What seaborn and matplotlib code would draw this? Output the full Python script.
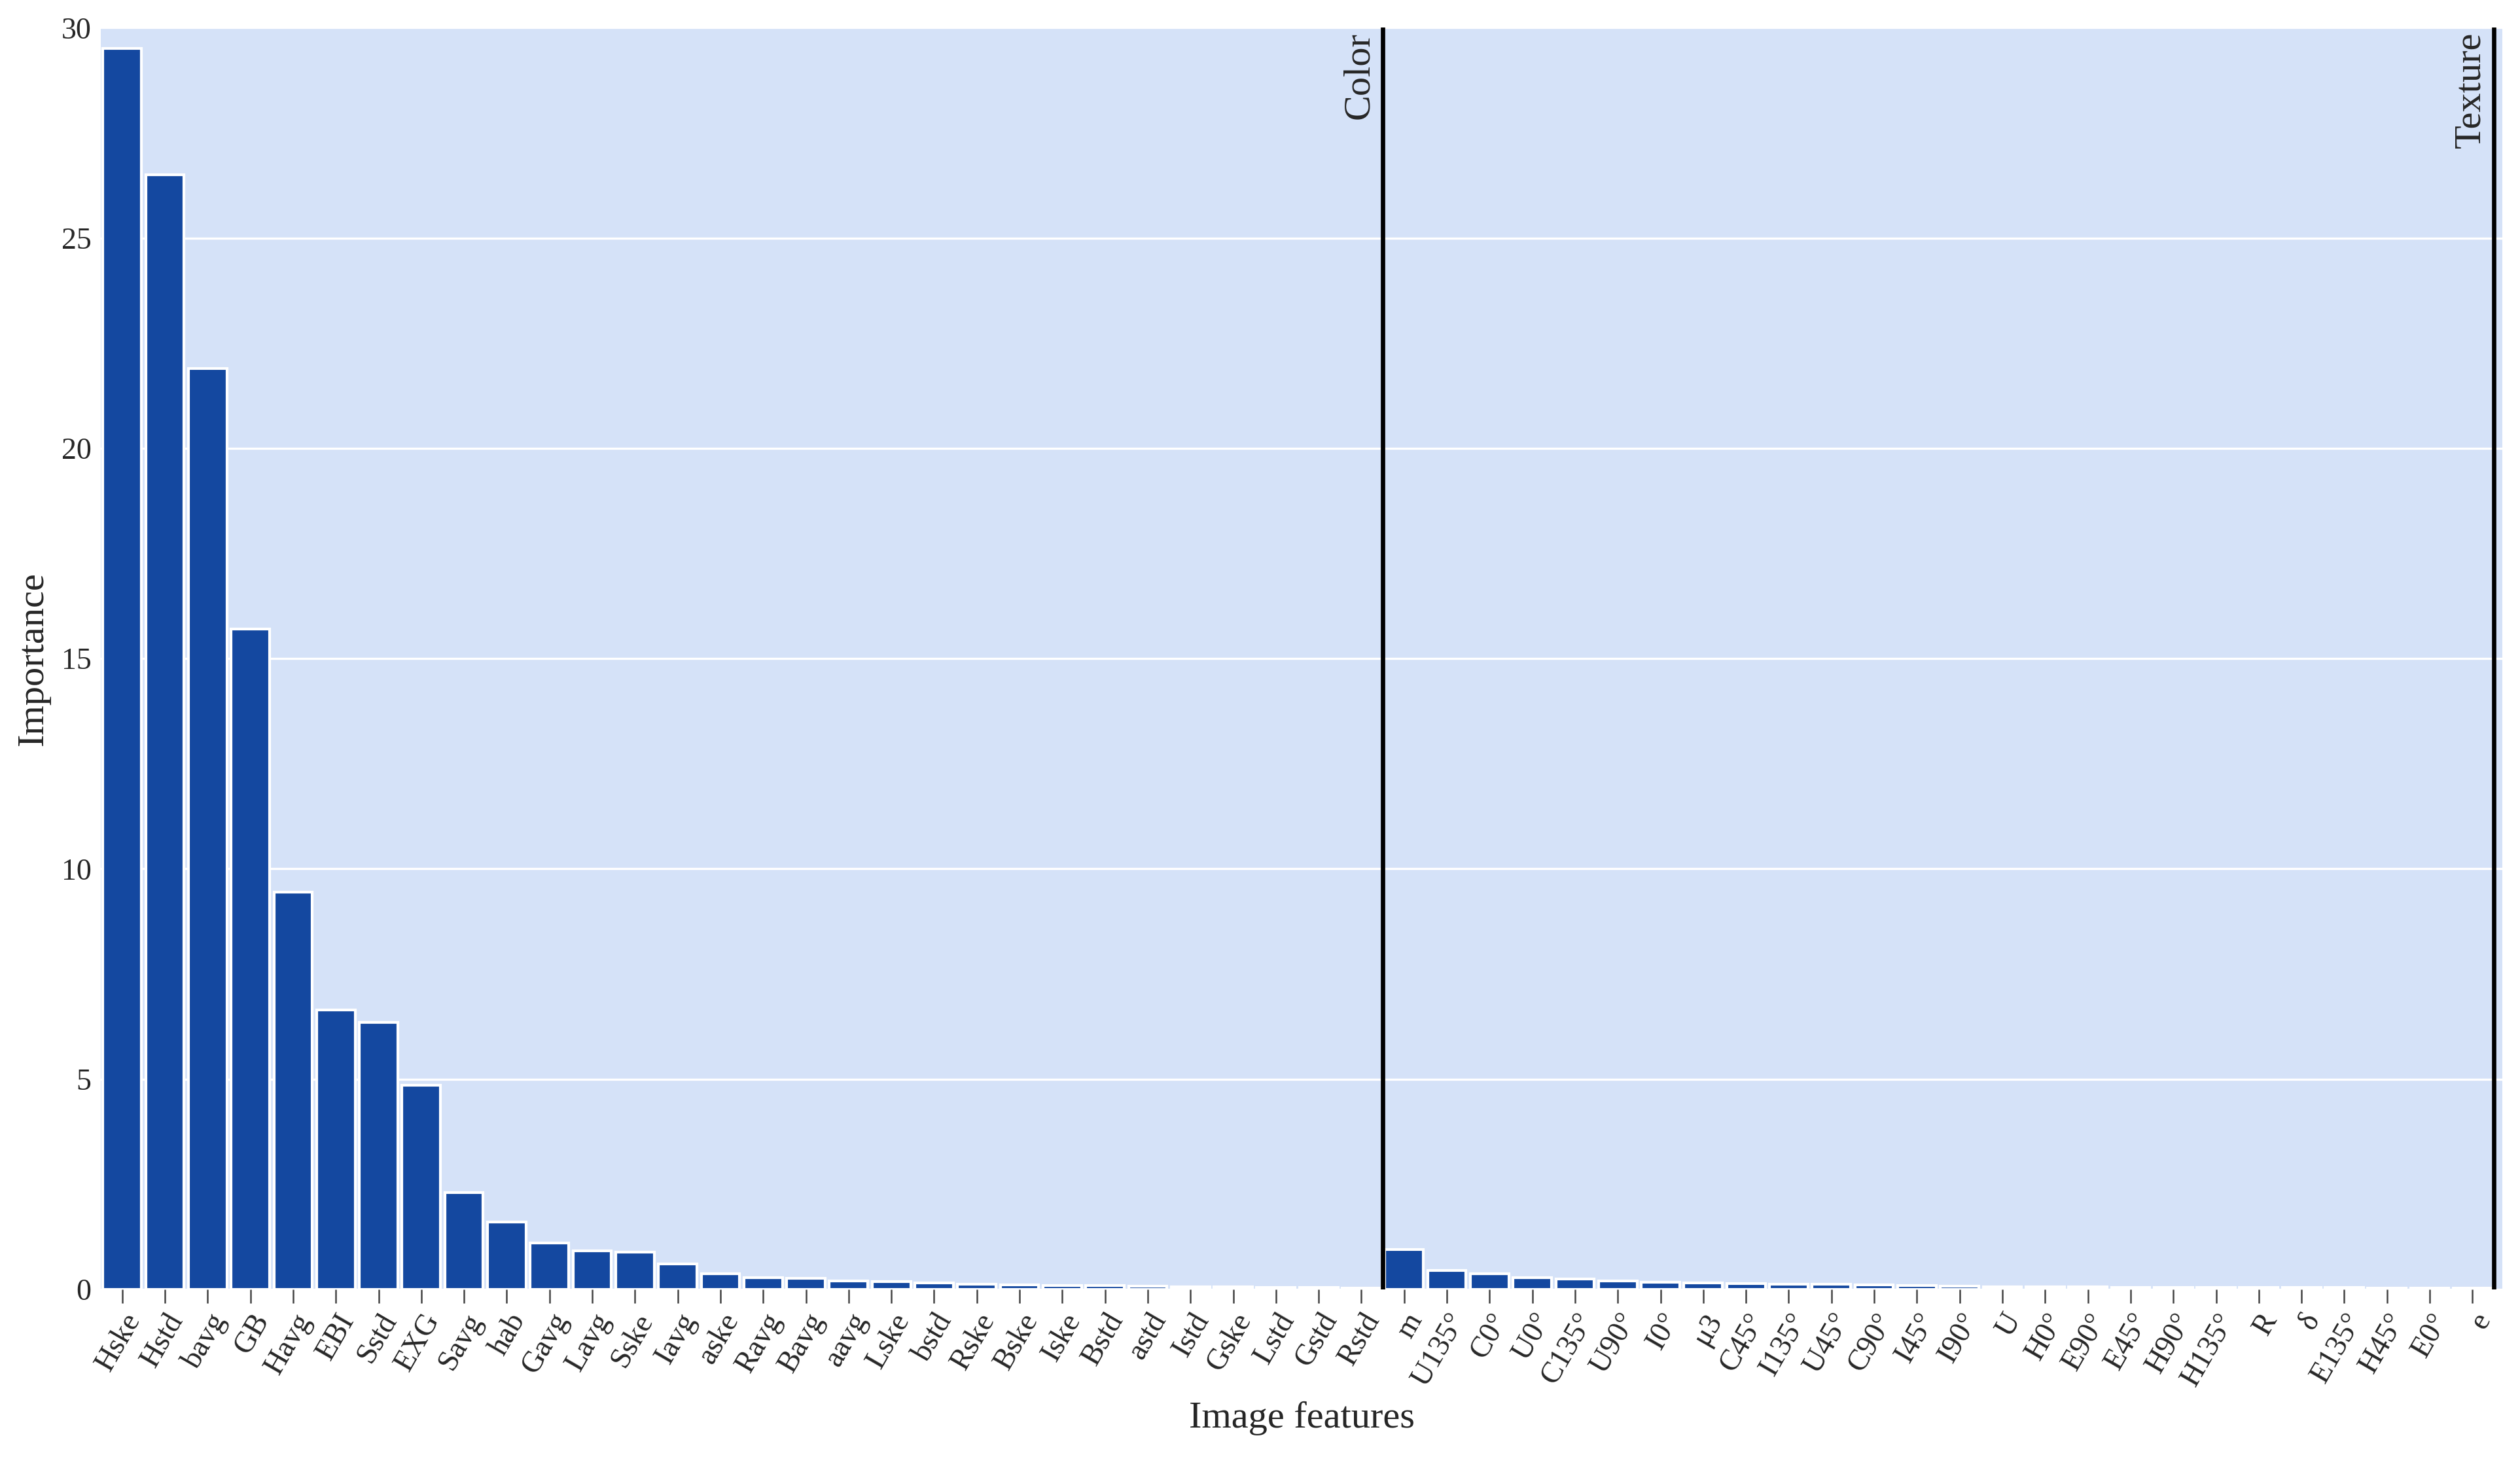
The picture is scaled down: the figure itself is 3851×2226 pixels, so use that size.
import matplotlib
matplotlib.use("Agg")
import matplotlib.pyplot as plt
import seaborn as sns
import pandas as pd

color_feats = ["Hske","Hstd","bavg","GB","Havg","EBI","Sstd","EXG","Savg","hab","Gavg","Lavg","Sske","Iavg","aske","Ravg","Bavg","aavg","Lske","bstd","Rske","Bske","Iske","Bstd","astd","Istd","Gske","Lstd","Gstd","Rstd"]
color_vals = [29.5,26.5,21.9,15.7,9.45,6.65,6.35,4.85,2.3,1.6,1.1,0.92,0.88,0.6,0.38,0.28,0.26,0.2,0.18,0.15,0.13,0.11,0.1,0.09,0.08,0.07,0.06,0.05,0.04,0.03]
tex_feats = ["m","U135°","C0°","U0°","C135°","U90°","I0°","μ3","C45°","I135°","U45°","C90°","I45°","I90°","U","H0°","E90°","E45°","H90°","H135°","R","δ","E135°","H45°","E0°","e"]
tex_vals = [0.95,0.45,0.37,0.28,0.25,0.2,0.17,0.15,0.14,0.13,0.12,0.11,0.1,0.08,0.07,0.06,0.06,0.05,0.05,0.05,0.04,0.04,0.04,0.03,0.03,0.03]

df = pd.DataFrame({"feature": color_feats + tex_feats, "imp": color_vals + tex_vals})

sns.set_theme(style="darkgrid", rc={"axes.facecolor": "#d5e2f8", "grid.color": "white", "grid.linewidth": 0.8})
plt.rcParams["font.family"] = ["Liberation Serif", "DejaVu Serif"]

fig = plt.figure(figsize=(3851/300, 2226/300), dpi=300)
ax = fig.add_axes([0.04, 0.115, 0.953, 0.866])
sns.barplot(data=df, x="feature", y="imp", color="#1448a0", saturation=1, width=0.9, ax=ax)
n = len(df)
ax.set_xlim(-0.5, n - 0.3)
ax.set_ylim(0, 30)
ax.set_yticks([0, 5, 10, 15, 20, 25, 30])
ax.tick_params(axis="y", labelsize=11, length=0)
ax.tick_params(axis="x", labelsize=11, length=5, width=0.6, color="#444444", bottom=True, pad=2)
plt.setp(ax.get_xticklabels(), rotation=60, ha="right", rotation_mode="anchor")
ax.set_xlabel("Image features", fontsize=14)
ax.set_ylabel("Importance", fontsize=14)
for s in ax.spines.values():
    s.set_visible(False)

xc = len(color_feats) - 0.5
xt = n - 0.5
ax.axvline(xc, color="black", lw=1.6)
ax.axvline(xt, color="black", lw=1.6)
ax.text(xc - 0.15, 29.9, "Color", rotation=90, ha="right", va="top", fontsize=14)
ax.text(xt - 0.15, 29.9, "Texture", rotation=90, ha="right", va="top", fontsize=14)

fig.savefig("out.png", dpi=300)
